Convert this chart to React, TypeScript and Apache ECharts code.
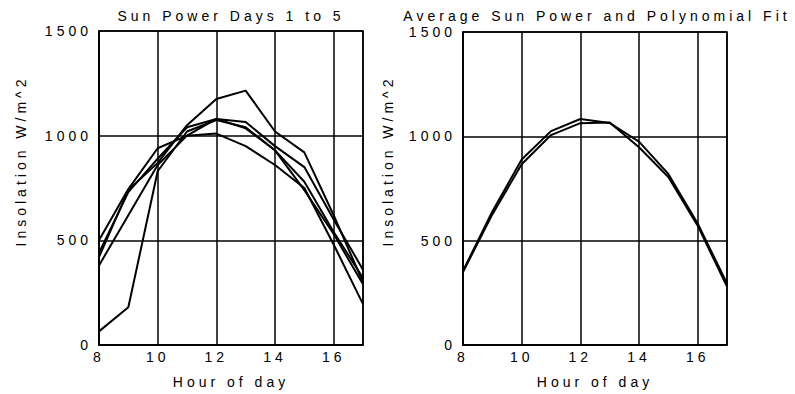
import React, { useEffect, useRef } from "react";
import * as echarts from "echarts";

const hours = [8, 9, 10, 11, 12, 13, 14, 15, 16, 17];

const day1 = [420, 740, 870, 1050, 1175, 1215, 1020, 920, 620, 300];
const day2 = [500, 745, 940, 1000, 1010, 950, 860, 750, 480, 195];
const day3 = [440, 730, 890, 1040, 1080, 1065, 950, 850, 600, 360];
const day4 = [380, 620, 860, 1000, 1080, 1035, 930, 780, 540, 320];
const day5 = [65, 180, 830, 1020, 1075, 1040, 930, 740, 530, 290];

const average = [355, 640, 889, 1025, 1083, 1064, 975, 820, 582, 295];
const polyFit = [350, 626, 866, 1006, 1063, 1066, 948, 805, 572, 280];

const yTicks = [0, 500, 1000, 1500];
const xTicks = [8, 10, 12, 14, 16];

const titleLeft = "Sun Power Days 1 to 5";
const titleRight = "Average Sun Power and Polynomial Fit";
const xName = "Hour of day";
const yName = "Insolation W/m^2";

const FONT = "'Liberation Sans', Arial, sans-serif";
const FS = 14;

function pairs(vals: number[]) {
  return hours.map((h, i) => [h, vals[i]]);
}

export default function App() {
  const ref = useRef<HTMLDivElement>(null);
  useEffect(() => {
    if (!ref.current) return;
    const chart = echarts.init(ref.current, undefined, { renderer: "svg" });
    const grids = [
      { left: 99, top: 31, width: 264, height: 319 },
      { left: 463, top: 32, width: 264, height: 319 },
    ];
    const xAxis = grids.map((_, i) => ({
      type: "value",
      gridIndex: i,
      min: 8,
      max: 17,
      interval: 2,
      name: xName,
      nameLocation: "middle",
      nameGap: 30,
      nameTextStyle: { fontFamily: FONT, fontSize: FS, color: "#000" },
      axisLine: { show: true, lineStyle: { color: "#000", width: 1.5 } },
      axisTick: { show: false },
      axisLabel: {
        showMaxLabel: false,
        fontFamily: FONT,
        fontSize: FS,
        color: "#000",
        margin: 5,
        formatter: (v: number) => (xTicks.includes(v) ? String(v) : ""),
      },
      splitLine: { show: true, lineStyle: { color: "#000", width: 1.5 } },
    }));
    const yAxis = grids.map((_, i) => ({
      type: "value",
      gridIndex: i,
      min: 0,
      max: 1500,
      interval: 500,
      axisLine: { show: true, lineStyle: { color: "#000", width: 1.5 } },
      axisTick: { show: false },
      axisLabel: {
        fontFamily: FONT,
        fontSize: FS,
        color: "#000",
        margin: 7,
        formatter: (v: number) => (yTicks.includes(v) ? String(v) : ""),
      },
      splitLine: { show: true, lineStyle: { color: "#000", width: 1.5 } },
    }));
    const mk = (name: string, vals: number[], idx: number, w: number) => ({
      type: "line",
      name,
      xAxisIndex: idx,
      yAxisIndex: idx,
      data: pairs(vals),
      showSymbol: false,
      symbol: "none",
      lineStyle: { color: "#000", width: w },
    });
    const txt = (text: string, x: number, y: number, rot = 0) => ({
      type: "text",
      x,
      y,
      rotation: rot,
      style: {
        text,
        align: "center",
        verticalAlign: "middle",
        fontFamily: FONT,
        fontSize: FS,
        fill: "#000",
      },
    });
    chart.setOption({
      animation: false,
      backgroundColor: "#fff",
      grid: grids.map((g) => ({
        ...g,
        show: true,
        borderColor: "#000",
        borderWidth: 1.5,
        containLabel: false,
      })),
      xAxis,
      yAxis,
      graphic: [
        txt(titleLeft, 231, 16),
        txt(titleRight, 597, 16),
        txt(yName, 21, 161, Math.PI / 2),
        txt(yName, 388, 161, Math.PI / 2),
      ],
      series: [
        mk("Day 1", day1, 0, 2),
        mk("Day 2", day2, 0, 2),
        mk("Day 3", day3, 0, 2),
        mk("Day 4", day4, 0, 2),
        mk("Day 5", day5, 0, 2),
        mk("Average", average, 1, 2),
        mk("Polynomial Fit", polyFit, 1, 2),
      ],
    });
    return () => chart.dispose();
  }, []);
  return (
    <>
      <style>{`#chart-root svg text { letter-spacing: 4px; }`}</style>
      <div
        id="chart-root"
        ref={ref}
        style={{ position: "fixed", left: 0, top: 0, width: 795, height: 394, background: "#fff" }}
      />
    </>
  );
}
